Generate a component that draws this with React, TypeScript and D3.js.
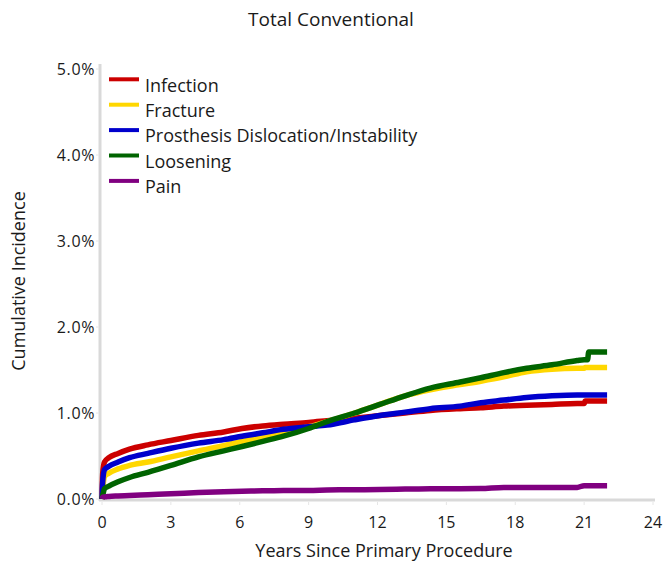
import React from "react";
import * as d3 from "d3";

const title = "Total Conventional";
const xTicks = [0, 3, 6, 9, 12, 15, 18, 21, 24];
const yTicks = [0, 1, 2, 3, 4, 5];
const seriesNames = ["Infection", "Fracture", "Prosthesis Dislocation/Instability", "Loosening", "Pain"];
const seriesColors = ["#cc0000", "#ffd700", "#0000cc", "#006400", "#800080"];

const years = [0, 0.03, 0.11, 0.3, 0.7, 1.2, 2.0, 3.0, 4.2, 5.3, 6.1, 7.0, 7.9, 9.0, 9.8, 11.0, 12.1, 13.2, 14.3, 15.6, 16.5, 17.5, 18.5, 19.6, 20.7, 21.0, 21.05, 21.15, 21.2, 22.0];

const infection = [0, 0.3, 0.43, 0.48, 0.53, 0.58, 0.63, 0.68, 0.74, 0.78, 0.82, 0.85, 0.87, 0.89, 0.91, 0.94, 0.97, 1.0, 1.03, 1.05, 1.06, 1.08, 1.09, 1.1, 1.11, 1.11, 1.14, 1.14, 1.14, 1.14];
const fracture = [0, 0.1, 0.26, 0.3, 0.35, 0.39, 0.43, 0.49, 0.56, 0.62, 0.67, 0.72, 0.78, 0.84, 0.9, 1.0, 1.1, 1.2, 1.27, 1.33, 1.37, 1.42, 1.48, 1.51, 1.52, 1.52, 1.53, 1.53, 1.53, 1.53];
const dislocation = [0, 0.2, 0.34, 0.38, 0.43, 0.48, 0.53, 0.59, 0.65, 0.69, 0.73, 0.77, 0.81, 0.84, 0.86, 0.92, 0.97, 1.01, 1.05, 1.08, 1.12, 1.15, 1.18, 1.2, 1.21, 1.21, 1.21, 1.21, 1.21, 1.21];
const loosening = [0, 0.04, 0.12, 0.15, 0.2, 0.25, 0.31, 0.39, 0.49, 0.56, 0.61, 0.67, 0.73, 0.82, 0.9, 1.0, 1.1, 1.2, 1.29, 1.36, 1.41, 1.47, 1.52, 1.56, 1.61, 1.62, 1.62, 1.62, 1.71, 1.71];
const pain = [0, 0.02, 0.025, 0.03, 0.035, 0.04, 0.05, 0.06, 0.075, 0.085, 0.09, 0.095, 0.1, 0.1, 0.105, 0.108, 0.11, 0.115, 0.12, 0.12, 0.122, 0.135, 0.135, 0.135, 0.135, 0.155, 0.155, 0.155, 0.155, 0.155];

const allSeries = [infection, fracture, dislocation, loosening, pain];

const W = 664;
const H = 565;
const left = 102;
const right = 653;
const top = 69;
const bottom = 499;
const font = "'Open Sans', 'Noto Sans', sans-serif";

export default function App() {
  const x = d3.scaleLinear().domain([0, 24]).range([left, right]);
  const y = d3.scaleLinear().domain([0, 5]).range([bottom, top]);
  const line = d3
    .line<[number, number]>()
    .x((d) => x(d[0]))
    .y((d) => y(d[1]))
    .curve(d3.curveMonotoneX);

  return (
    <svg width={W} height={H} style={{ position: "absolute", left: 0, top: 0 }} fontFamily={font}>
      <rect width={W} height={H} fill="#fff" />
      <text x={331} y={26} textAnchor="middle" fontSize={19} fill="#1a1a1a">
        {title}
      </text>
      {/* axes */}
      <line x1={left - 2} x2={left - 2} y1={64} y2={bottom + 2} stroke="#d9d9d9" strokeWidth={3} />
      <line x1={left - 3} x2={right + 2} y1={bottom + 1} y2={bottom + 1} stroke="#d9d9d9" strokeWidth={3} />
      {yTicks.map((t) => (
        <g key={"y" + t}>
          <line x1={left - 6} x2={left - 3} y1={y(t)} y2={y(t)} stroke="#e6e6e6" strokeWidth={1} />
          <text x={95} y={y(t)} dy="0.36em" textAnchor="end" fontSize={16} letterSpacing={0.6} fill="#1a1a1a">
            {d3.format(".1f")(t) + "%"}
          </text>
        </g>
      ))}
      {xTicks.map((t) => (
        <g key={"x" + t}>
          <line x1={x(t)} x2={x(t)} y1={bottom + 3} y2={bottom + 6} stroke="#e6e6e6" strokeWidth={1} />
          <text x={x(t)} y={528} textAnchor="middle" fontSize={16} fill="#1a1a1a">
            {t}
          </text>
        </g>
      ))}
      <text x={384} y={557} textAnchor="middle" fontSize={18} fill="#1a1a1a">
        Years Since Primary Procedure
      </text>
      <text
        transform={`translate(25,281) rotate(-90)`}
        textAnchor="middle"
        fontSize={18}
        fill="#1a1a1a"
      >
        Cumulative Incidence
      </text>
      {/* series */}
      {allSeries.map((s, i) => (
        <path
          key={seriesNames[i]}
          d={line(years.map((yr, j) => [yr, s[j]] as [number, number])) || ""}
          fill="none"
          stroke={seriesColors[i]}
          strokeWidth={5.5}
          strokeLinejoin="miter"
        />
      ))}
      {/* legend */}
      {seriesNames.map((n, i) => {
        const ly = 79.3 + i * 25.4;
        return (
          <g key={"l" + n}>
            <line x1={109} x2={139} y1={ly} y2={ly} stroke={seriesColors[i]} strokeWidth={4} />
            <text x={145} y={ly + 12.3} fontSize={18} fill="#1a1a1a">
              {n}
            </text>
          </g>
        );
      })}
    </svg>
  );
}
